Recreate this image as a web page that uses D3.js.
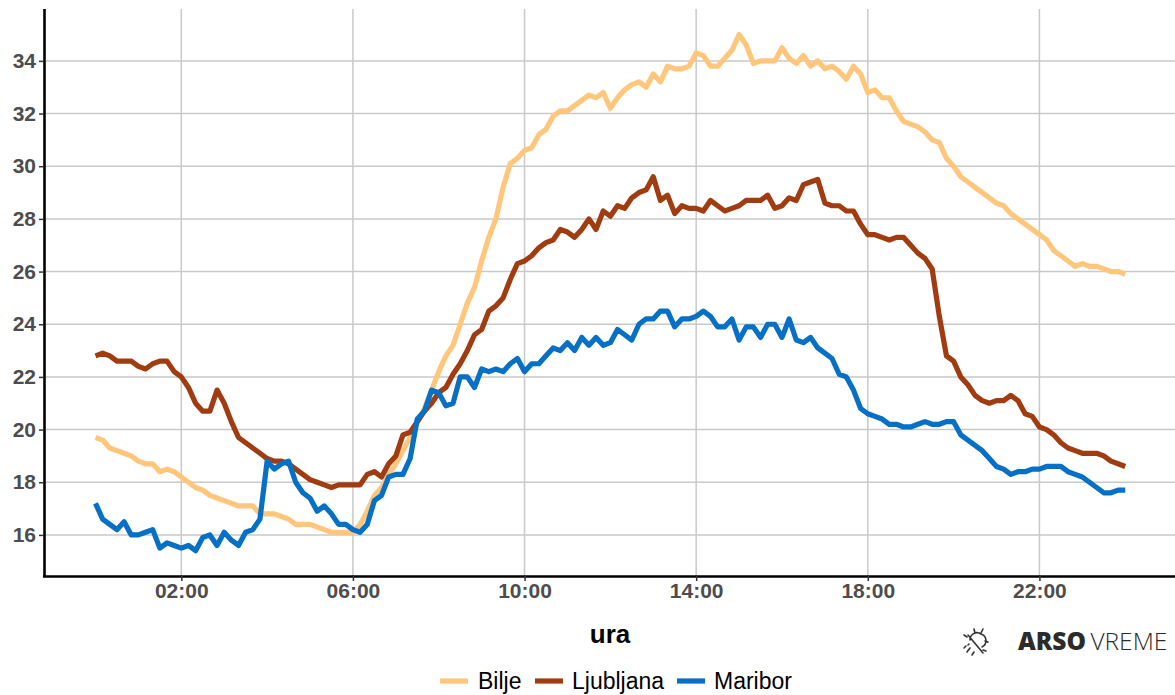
<!DOCTYPE html>
<html><head><meta charset="utf-8">
<script src="https://cdn.jsdelivr.net/npm/d3@7/dist/d3.min.js"></script>
<style>html,body{margin:0;padding:0;background:#fff}svg{display:block}</style>
</head><body><svg id="c" width="1175" height="695"></svg>
<script>
const bilje = [19.7,19.6,19.3,19.2,19.1,19.0,18.8,18.7,18.7,18.4,18.5,18.4,18.2,18.0,17.8,17.7,17.5,17.4,17.3,17.2,17.1,17.1,17.1,16.8,16.8,16.8,16.7,16.6,16.4,16.4,16.4,16.3,16.2,16.1,16.1,16.1,16.1,
16.4,16.9,17.5,17.8,18.3,18.7,19.2,19.7,20.3,20.8,21.5,22.2,22.8,23.2,24.0,24.8,25.4,26.4,27.3,28.0,29.2,30.1,30.3,30.6,30.7,31.2,31.4,31.9,32.1,32.1,32.3,32.5,32.7,32.6,32.8,32.2,32.6,32.9,33.1,33.2,33.0,33.5,33.2,33.8,33.7,33.7,33.8,34.3,34.2,33.8,33.8,34.1,34.4,35.0,34.6,33.9,34.0,34.0,34.0,34.5,34.1,33.9,34.2,33.8,34.0,33.7,33.8,33.6,33.3,33.8,33.5,32.8,32.9,32.6,32.6,32.1,31.7,31.6,31.5,31.3,31.0,30.9,30.3,30.0,29.6,29.4,29.2,29.0,28.8,28.6,28.5,28.2,28.0,27.8,27.6,27.4,27.2,26.8,26.6,26.4,26.2,26.3,26.2,26.2,26.1,26.0,26.0,25.9];
const ljubljana = [22.8,22.9,22.8,22.6,22.6,22.6,22.4,22.3,22.5,22.6,22.6,22.2,22.0,21.6,21.0,20.7,20.7,21.5,21.0,20.3,19.7,19.5,19.3,19.1,18.9,18.8,18.8,18.7,18.5,18.3,18.1,18.0,17.9,17.8,17.9,17.9,17.9,17.9,18.3,18.4,18.2,18.7,19.0,19.8,19.9,20.3,20.7,21.0,21.4,21.6,22.1,22.5,23.0,23.6,23.8,24.5,24.7,25.0,25.7,26.3,26.4,26.6,26.9,27.1,27.2,27.6,27.5,27.3,27.6,28.0,27.6,28.3,28.1,28.5,28.4,28.8,29.0,29.1,29.6,28.7,28.9,28.2,28.5,28.4,28.4,28.3,28.7,28.5,28.3,28.4,28.5,28.7,28.7,28.7,28.9,28.4,28.5,28.8,28.7,29.3,29.4,29.5,28.6,28.5,28.5,28.3,28.3,27.8,27.4,27.4,27.3,27.2,27.3,27.3,27.0,26.7,26.5,26.1,24.3,22.8,22.6,22.0,21.7,21.3,21.1,21.0,21.1,21.1,21.3,21.1,20.6,20.5,20.1,20.0,19.8,19.5,19.3,19.2,19.1,19.1,19.1,19.0,18.8,18.7,18.6];
const maribor = [17.2,16.6,16.4,16.2,16.5,16.0,16.0,16.1,16.2,15.5,15.7,15.6,15.5,15.6,15.4,15.9,16.0,15.6,16.1,15.8,15.6,16.1,16.2,16.6,18.8,18.5,18.7,18.8,18.0,17.6,17.4,16.9,17.1,16.8,16.4,16.4,16.2,16.1,16.4,17.3,17.5,18.2,18.3,18.3,18.9,20.4,20.7,21.5,21.4,20.9,21.0,22.0,22.0,21.6,22.3,22.2,22.3,22.2,22.5,22.7,22.2,22.5,22.5,22.8,23.1,23.0,23.3,23.0,23.5,23.2,23.5,23.2,23.3,23.8,23.6,23.4,24.0,24.2,24.2,24.5,24.5,23.9,24.2,24.2,24.3,24.5,24.3,23.9,23.9,24.2,23.4,23.9,23.9,23.5,24.0,24.0,23.5,24.2,23.4,23.3,23.5,23.1,22.9,22.7,22.1,22.0,21.5,20.8,20.6,20.5,20.4,20.2,20.2,20.1,20.1,20.2,20.3,20.2,20.2,20.3,20.3,19.8,19.6,19.4,19.2,18.9,18.6,18.5,18.3,18.4,18.4,18.5,18.5,18.6,18.6,18.6,18.4,18.3,18.2,18.0,17.8,17.6,17.6,17.7,17.7];
const seriesNames = ["Bilje","Ljubljana","Maribor"];
const seriesColors = ["#FFC67C","#A03C10","#0570C6"];
const xTickHours = [2,6,10,14,18,22];
const yTicks = [16,18,20,22,24,26,28,30,32,34];
const stepMinutes = 10;

const svg = d3.select("#c");
const L=44, R=1175, T=9, B=576;
const font = "'Liberation Sans', Arial, sans-serif";
const t0 = Date.UTC(2024,0,1);
const hour = h => new Date(t0 + h*3600e3);
const x = d3.scaleUtc().domain([hour(-1.2), hour(25.16)]).range([L,R]);
const y = d3.scaleLinear().domain([14.44,35.97]).range([B,T]);

const g = svg.append("g");
g.selectAll("line.h").data(yTicks).join("line").attr("class","h")
  .attr("x1",L).attr("x2",R).attr("y1",d=>y(d)).attr("y2",d=>y(d))
  .attr("stroke","#c9c9c9").attr("stroke-width",1.5);
g.selectAll("line.v").data(xTickHours).join("line").attr("class","v")
  .attr("y1",T).attr("y2",B).attr("x1",d=>x(hour(d))).attr("x2",d=>x(hour(d)))
  .attr("stroke","#c9c9c9").attr("stroke-width",1.5);

const line = d3.line().x((d,i)=>x(new Date(t0+i*stepMinutes*60e3))).y(d=>y(d));
[bilje,ljubljana,maribor].forEach((s,k)=>{
  svg.append("path").datum(s).attr("d",line).attr("fill","none")
    .attr("stroke",seriesColors[k]).attr("stroke-width",5.2)
    .attr("stroke-linejoin","round").attr("stroke-linecap","butt");
});

const ax = svg.append("g").attr("transform",`translate(0,${B})`)
  .call(d3.axisBottom(x).tickValues(xTickHours.map(hour)).tickFormat(d3.utcFormat("%H:%M")).tickSize(5).tickPadding(2));
const ay = svg.append("g").attr("transform",`translate(${L},0)`)
  .call(d3.axisLeft(y).tickValues(yTicks).tickFormat(d3.format("d")).tickSize(5).tickPadding(3));
[ax,ay].forEach(a=>{
  a.selectAll("text").attr("font-family",font).attr("font-weight","bold").attr("font-size","21px").attr("fill","#4d4d4d");
  a.selectAll(".tick line").attr("stroke","#333").attr("stroke-width",1.5);
  a.select(".domain").attr("stroke","#000").attr("stroke-width",2.6);
});
ax.select(".domain").attr("d",`M${L-1},0.5H${R}`);
ay.select(".domain").attr("d",`M0.5,${T}V${B}`);

svg.append("text").text("ura").attr("x",610).attr("y",643).attr("text-anchor","middle")
  .attr("font-family",font).attr("font-weight","bold").attr("font-size","26px").attr("fill","#000");

const keys=[440,535,677], labels=[478,572,714];
seriesNames.forEach((n,k)=>{
  svg.append("line").attr("x1",keys[k]).attr("x2",keys[k]+28).attr("y1",681).attr("y2",681)
    .attr("stroke",seriesColors[k]).attr("stroke-width",5.2);
  svg.append("text").text(n).attr("x",labels[k]).attr("y",689)
    .attr("font-family",font).attr("font-size","23px").attr("fill","#000");
});

const logo = svg.append("g").attr("transform","translate(975,641)").attr("fill","none")
  .attr("stroke","#333").attr("stroke-width",1.6).attr("stroke-linecap","round");
logo.append("path").attr("d","M-7,-6 L8,12 M-5,-1 A7,7 0 0 1 6,-7 A7,7 0 0 1 7,6 M-1,-12 L0,-8 M8,-12 L6,-8 M10,0 L13,1 M-11,-6 L-8,-4 M8,9 L11,10");
logo.append("path").attr("d","M-9,5 L-11,7 M-5,7 L-8,11 M-1,11 L-3,14 M-6,3 L-7,4");
const t = svg.append("text").attr("x",1018).attr("y",650).attr("font-family","'Open Sans','Noto Sans',sans-serif").attr("font-size","24.5px").attr("fill","#2b2b2b");
t.append("tspan").text("ARSO").attr("font-weight","800");
t.append("tspan").text(" VREME").attr("font-weight","300").attr("dx","-2");
</script></body></html>
